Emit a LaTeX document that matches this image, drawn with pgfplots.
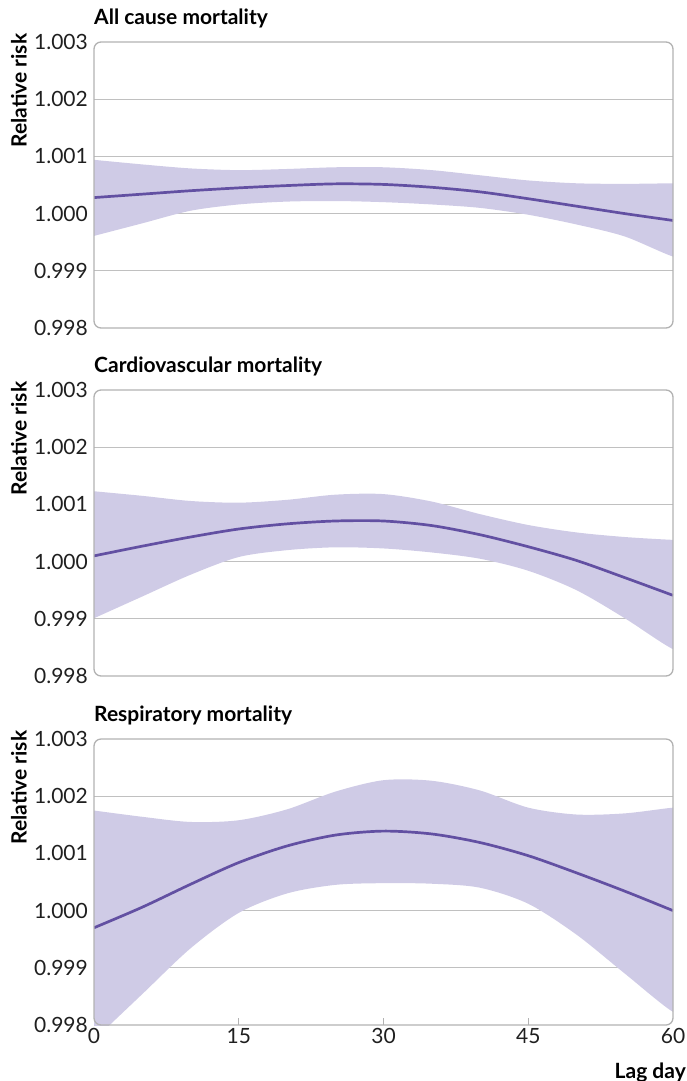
\documentclass[border=0pt]{standalone}
\usepackage{fontspec}
\setmainfont{Lato}
\usepackage{pgfplots}
\pgfplotsset{compat=1.18}
\usepackage{pgfplotstable}
\definecolor{bandc}{RGB}{207,203,230}
\definecolor{linec}{RGB}{98,80,162}
\definecolor{gridc}{RGB}{192,192,192}
\definecolor{framec}{RGB}{178,178,178}

% central estimates
\pgfplotstableread{
day mid
0  1.00028
5  1.00034
10 1.00040
15 1.00045
20 1.00049
25 1.00052
30 1.00051
35 1.00046
40 1.00038
45 1.00026
50 1.00013
55 1.00000
60 0.99988
}\allcause
% confidence band: upper limit from day 0 to 60, then lower limit from day 60 back to 0
\pgfplotstableread{
day val
0  1.00094
5  1.00086
10 1.00079
15 1.00076
20 1.00078
25 1.00081
30 1.00081
35 1.00076
40 1.00067
45 1.00058
50 1.00053
55 1.00052
60 1.00053
62 1.00053
62 0.99925
60 0.99925
55 0.99960
50 0.99981
45 0.99998
40 1.00010
35 1.00016
30 1.00020
25 1.00022
20 1.00021
15 1.00016
10 1.00005
5  0.99983
0  0.99961
}\allcauseband

\pgfplotstableread{
day mid
0  1.00010
5  1.00027
10 1.00043
15 1.00057
20 1.00066
25 1.00071
30 1.00071
35 1.00063
40 1.00047
45 1.00026
50 1.00002
55 0.99972
60 0.99941
}\cardio
\pgfplotstableread{
day val
0  1.00123
5  1.00115
10 1.00106
15 1.00103
20 1.00108
25 1.00117
30 1.00118
35 1.00105
40 1.00083
45 1.00064
50 1.00051
55 1.00043
60 1.00038
62 1.00038
62 0.99847
60 0.99847
55 0.99901
50 0.99950
45 0.99984
40 1.00005
35 1.00016
30 1.00023
25 1.00025
20 1.00020
15 1.00008
10 0.99977
5  0.99939
0  0.99901
}\cardioband

\pgfplotstableread{
day mid
0  0.99970
5  1.00006
10 1.00046
15 1.00084
20 1.00113
25 1.00132
30 1.00139
35 1.00134
40 1.00119
45 1.00096
50 1.00066
55 1.00034
60 1.00000
}\resp
\pgfplotstableread{
day val
0  1.00175
5  1.00164
10 1.00155
15 1.00158
20 1.00177
25 1.00208
30 1.00228
35 1.00227
40 1.00210
45 1.00180
50 1.00168
55 1.00170
60 1.00180
62 1.00180
62 0.99823
60 0.99823
55 0.99890
50 0.99958
45 1.00012
40 1.00040
35 1.00047
30 1.00048
25 1.00045
20 1.00030
15 0.99996
10 0.99934
5  0.99854
0  0.99774
}\respband

\pgfplotsset{
  panel/.style={
    scale only axis, width=579pt, height=286pt,
    xmin=0, xmax=60, ymin=0.998, ymax=1.003,
    axis line style={draw=none},
    xtick=\empty,
    minor xtick={15,30,45},
    xtick pos=bottom, tick align=inside,
    minor tick length=7pt, major tick length=0pt,
    minor tick style={draw=framec, line width=1.2pt},
    ytick={0.999,1.000,1.001,1.002},
    yticklabels={0.999,1.000,1.001,1.002},
    extra y ticks={0.998,1.003},
    extra y tick labels={0.998,1.003},
    extra y tick style={grid=none},
    ytick style={draw=none},
    ymajorgrids, grid style={draw=gridc, line width=1.3pt},
    tick label style={font=\fontsize{21}{24}\selectfont, text=black!88},
    yticklabel style={inner sep=0pt, xshift=-6pt},
    ylabel={Relative risk},
    ylabel style={at={(axis description cs:-0.1162,1.03)}, anchor=base east, inner sep=0pt,
      font=\bfseries\fontsize{21}{24}\selectfont},
    title style={at={(axis description cs:0,1)}, anchor=base west, yshift=11.5pt, inner sep=0pt,
      font=\bfseries\fontsize{21}{24}\selectfont},
  },
}

\newcommand{\drawpanel}[2]{%
  \addplot[fill=bandc, draw=none, smooth] table[x=day,y=val]{#2};
  \addplot[linec, line width=2.7pt, smooth] table[x=day,y=mid]{#1};
}

\begin{document}
\begin{tikzpicture}
\useasboundingbox (0,0) rectangle (686pt,-1081pt);

\begin{axis}[panel, at={(94pt,-328pt)}, anchor=south west, name=ax1,
  title={All cause mortality}]
  \drawpanel{\allcause}{\allcauseband}
\end{axis}
\draw[framec, line width=1.3pt, rounded corners=7pt] (ax1.south west) rectangle (ax1.north east);

\begin{axis}[panel, at={(94pt,-676pt)}, anchor=south west, name=ax2,
  title={Cardiovascular mortality}]
  \drawpanel{\cardio}{\cardioband}
\end{axis}
\draw[framec, line width=1.3pt, rounded corners=7pt] (ax2.south west) rectangle (ax2.north east);

\begin{axis}[panel, at={(94pt,-1025pt)}, anchor=south west, name=ax3,
  title={Respiratory mortality},
  xtick={0,15,30,45,60}, xticklabels={0,15,30,45,60},
  xlabel={Lag day},
  xlabel style={at={(axis description cs:1.0225,-0.1865)}, anchor=base east, inner sep=0pt,
    font=\bfseries\fontsize{21}{24}\selectfont}]
  \drawpanel{\resp}{\respband}
\end{axis}
\draw[framec, line width=1.3pt, rounded corners=7pt] (ax3.south west) rectangle (ax3.north east);
\end{tikzpicture}
\end{document}
